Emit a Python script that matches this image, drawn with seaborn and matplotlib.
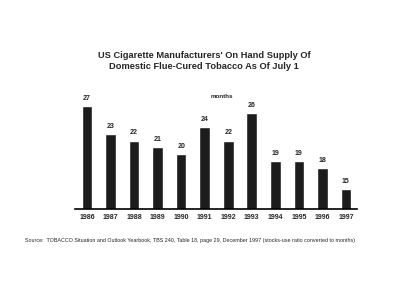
import pandas as pd
import matplotlib
matplotlib.use("Agg")
import matplotlib.pyplot as plt
import seaborn as sns

# Data (months of supply)
years = ["1986", "1987", "1988", "1989", "1990", "1991",
         "1992", "1993", "1994", "1995", "1996", "1997"]
months = [27, 23, 22, 21, 20, 24, 22, 26, 19, 19, 18, 15]

df = pd.DataFrame({"Year": years, "Months": months})

sns.set_style("white")
plt.rcParams['font.family'] = ['Liberation Sans', 'DejaVu Sans']

fig = plt.figure(figsize=(4, 3.05), dpi=100)
ax = fig.add_axes([0.1875, 0.315, 0.705, 0.36])

sns.barplot(data=df, x="Year", y="Months", color="#1c1c1c",
            saturation=1, width=0.45, ax=ax)

# value labels above bars
for i, v in enumerate(months):
    ax.text(i, v + 0.6, str(v), ha="center", va="bottom",
            fontsize=5, fontweight="bold")

ax.set_ylim(12.1, 28)
ax.set_xlim(-0.51, 11.47)
ax.set_yticks([])
ax.set_xlabel("")
ax.set_ylabel("")
for s in ["top", "right", "left"]:
    ax.spines[s].set_visible(False)
ax.spines["bottom"].set_linewidth(1.2)
ax.spines["bottom"].set_color("black")
ax.tick_params(axis="x", length=0, pad=4, labelsize=5)
for lbl in ax.get_xticklabels():
    lbl.set_fontweight("bold")

fig.text(0.51, 0.8, "US Cigarette Manufacturers' On Hand Supply Of\n"
         "Domestic Flue-Cured Tobacco As Of July 1",
         ha="center", va="center", fontsize=6.7, fontweight="bold",
         linespacing=1.2)
fig.text(0.555, 0.685, "months", ha="center", va="center",
         fontsize=4.5, fontweight="bold")
fig.text(0.0625, 0.213,
         "Source:  TOBACCO Situation and Outlook Yearbook, TBS 240, Table 18, "
         "page 29, December 1997 (stocks-use ratio converted to months)",
         ha="left", va="center", fontsize=3.85)

fig.savefig("out.png", dpi=100, facecolor="white")
